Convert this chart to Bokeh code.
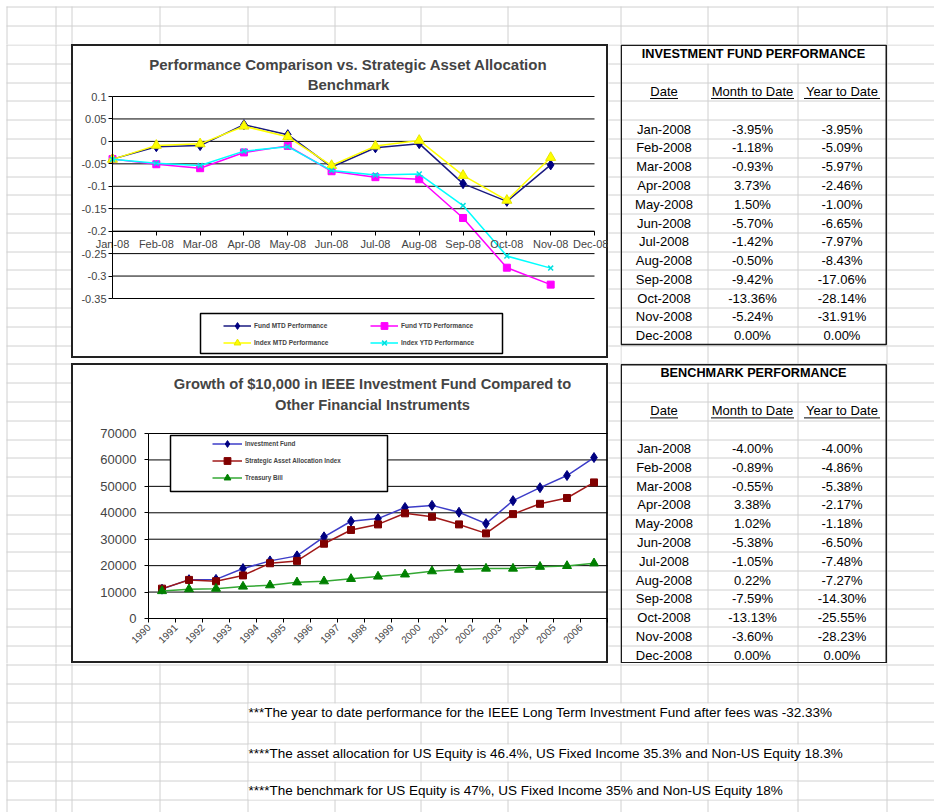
import math
from bokeh.plotting import figure
from bokeh.models import (Range1d, FixedTicker, LinearAxis, Legend, LegendItem,
                          BoxAnnotation, CustomJSTickFormatter, ColumnDataSource, Label)
from bokeh.layouts import row, column
from bokeh.core.properties import value
from bokeh.embed import file_html
from bokeh.resources import INLINE

FONT = "Liberation Sans"
GRID = "#d0d0d0"

# ---------------------------------------------------------------- data
table_dates = ["Jan-2008", "Feb-2008", "Mar-2008", "Apr-2008", "May-2008", "Jun-2008",
               "Jul-2008", "Aug-2008", "Sep-2008", "Oct-2008", "Nov-2008", "Dec-2008"]
chart1_months = ["Jan-08", "Feb-08", "Mar-08", "Apr-08", "May-08", "Jun-08",
                 "Jul-08", "Aug-08", "Sep-08", "Oct-08", "Nov-08", "Dec-08"]
fund_mtd = [-3.95, -1.18, -0.93, 3.73, 1.50, -5.70, -1.42, -0.50, -9.42, -13.36, -5.24, 0.00]
fund_ytd = [-3.95, -5.09, -5.97, -2.46, -1.00, -6.65, -7.97, -8.43, -17.06, -28.14, -31.91, 0.00]
index_mtd = [-4.00, -0.89, -0.55, 3.38, 1.02, -5.38, -1.05, 0.22, -7.59, -13.13, -3.60, 0.00]
index_ytd = [-4.00, -4.86, -5.38, -2.17, -1.18, -6.50, -7.48, -7.27, -14.30, -25.55, -28.23, 0.00]
chart1_plotted_months = 11          # the chart stops at Nov-08
chart1_yticks = [-0.35, -0.3, -0.25, -0.2, -0.15, -0.1, -0.05, 0, 0.05, 0.1]
chart1_xaxis_crosses = -0.2
chart1_series = ["Fund MTD Performance", "Fund YTD Performance",
                 "Index MTD Performance", "Index YTD Performance"]

years = ["1990", "1991", "1992", "1993", "1994", "1995", "1996", "1997", "1998",
         "1999", "2000", "2001", "2002", "2003", "2004", "2005", "2006"]
investment_fund = [11100, 14700, 14800, 18900, 21800, 23700, 30900, 36800, 37800,
                   42000, 42800, 40200, 35900, 44600, 49500, 54100, 60900]
strategic_index = [11300, 14600, 14100, 16300, 20900, 21800, 28300, 33500, 35600,
                   39800, 38500, 35600, 32200, 39500, 43400, 45600, 51500]
treasury_bill = [10400, 11100, 11300, 12100, 12600, 13700, 14100, 15000, 15900,
                 16700, 17900, 18500, 18900, 18900, 19600, 19900, 20900]
chart2_yticks = [0, 10000, 20000, 30000, 40000, 50000, 60000, 70000]
chart2_series = ["Investment Fund", "Strategic Asset Allocation Index", "Treasury Bill"]

chart1_title = ["Performance Comparison vs. Strategic Asset Allocation", "Benchmark"]
chart2_title = ["Growth of $10,000 in IEEE Investment Fund Compared to",
                "Other Financial Instruments"]
table1_title = "INVESTMENT FUND PERFORMANCE"
table2_title = "BENCHMARK PERFORMANCE"
table_headers = ["Date", "Month to Date", "Year to Date"]
notes = ["***The year to date performance for the IEEE Long Term Investment Fund after fees was -32.33%",
         "****The asset allocation for US Equity is 46.4%, US Fixed Income 35.3% and Non-US Equity 18.3%",
         "****The benchmark for US Equity is 47%, US Fixed Income 35% and Non-US Equity 18%"]

# ---------------------------------------------------------------- sheet layout (page pixels)
PX0, PX1, PY0, PY1 = 0, 934, 0, 812
GX0, GY0 = 6, 6
ROW_TOP, ROW_H = 44.0, 18.79
H_LINES = [6, 25.2] + [ROW_TOP + ROW_H * k for k in range(35)] + [702, 721, 743, 761, 780, 799]
V_LINES = [6, 55, 71, 159, 247, 334, 420, 507, 620, 707, 797, 886]


def crisp(v):
    return math.floor(v + 0.5) + 0.5


def row_y(k):
    return ROW_TOP + ROW_H * k


def sheet(x0, x1, y0, y1):
    p = figure(width=x1 - x0, height=y1 - y0, x_range=Range1d(x0, x1), y_range=Range1d(y1, y0),
               x_axis_location=None, y_axis_location=None, toolbar_location=None, title=None,
               min_border=0, outline_line_color=None, output_backend="svg",
               background_fill_color="white", border_fill_color="white")
    p.xgrid.visible = False
    p.ygrid.visible = False
    hs = [crisp(v) for v in H_LINES]
    vs = [crisp(v) for v in V_LINES]
    p.segment(x0=[GX0] * len(hs), x1=[PX1] * len(hs), y0=hs, y1=hs, line_color=GRID, line_width=1)
    p.segment(x0=vs, x1=vs, y0=[GY0] * len(vs), y1=[PY1] * len(vs), line_color=GRID, line_width=1)
    return p


def txt(size, bold=False, align="center"):
    return dict(text_font=value(FONT), text_font_size=value(size), text_color="black",
                text_baseline="middle", text_align=align,
                text_font_style="bold" if bold else "normal")


chart_style = {"background-color": "white", "box-shadow": "inset 0 0 0 2px #222222"}


def chart_figure(w, h, xr, yr):
    p = figure(width=w, height=h, x_range=xr, y_range=yr, title=None,
               x_axis_location=None, y_axis_location=None, toolbar_location=None,
               output_backend="svg", min_border=0, background_fill_color=None,
               border_fill_color=None, outline_line_color=None, styles=chart_style)
    p.xgrid.visible = False
    p.ygrid.visible = False
    return p


def axis(**kw):
    base = dict(major_label_text_font=FONT, major_tick_in=0, major_tick_out=4,
                minor_tick_in=0, minor_tick_out=0, axis_line_color="black",
                major_tick_line_color="black")
    base.update(kw)
    return LinearAxis(**base)


# ---------------------------------------------------------------- chart 1
C1_X0, C1_X1, C1_Y0, C1_Y1 = 71, 608, 44, 358          # chart box on the page
A1_X0, A1_X1, A1_YTOP, A1_YBOT = 112, 594, 96, 298      # plot area on the page
n1x = len(chart1_months) - 1
y1max, y1min = max(chart1_yticks), min(chart1_yticks)


def c1x(px):
    return (px - A1_X0) * n1x / (A1_X1 - A1_X0)


def c1y(py):
    return y1max - (py - A1_YTOP) * (y1max - y1min) / (A1_YBOT - A1_YTOP)


p1 = chart_figure(C1_X1 - C1_X0, C1_Y1 - C1_Y0,
                  Range1d(c1x(C1_X0), c1x(C1_X1)), Range1d(c1y(C1_Y1), c1y(C1_Y0)))

p1.segment(x0=[0] * len(chart1_yticks), x1=[n1x] * len(chart1_yticks),
           y0=chart1_yticks, y1=chart1_yticks, line_color="black", line_width=1)

p1.add_layout(axis(fixed_location=0, bounds=(y1min, y1max),
                   ticker=FixedTicker(ticks=chart1_yticks),
                   formatter=CustomJSTickFormatter(code="return String(Math.round(tick * 100) / 100);"),
                   major_label_text_font_size="11px", major_label_standoff=2), "left")
p1.add_layout(axis(fixed_location=chart1_xaxis_crosses, bounds=(0, n1x),
                   ticker=FixedTicker(ticks=list(range(len(chart1_months)))),
                   formatter=CustomJSTickFormatter(args=dict(labels=chart1_months),
                                                   code="const i = Math.round(tick); return (i >= 0 && i < labels.length) ? labels[i] : '';"),
                   major_label_text_font_size="11px", major_label_standoff=3), "below")

n1 = chart1_plotted_months
src1 = ColumnDataSource(dict(x=list(range(n1)),
                             fm=[v / 100 for v in fund_mtd[:n1]],
                             fy=[v / 100 for v in fund_ytd[:n1]],
                             im=[v / 100 for v in index_mtd[:n1]],
                             iy=[v / 100 for v in index_ytd[:n1]]))
l_fm = p1.line("x", "fm", source=src1, line_color="#1a1a80", line_width=1.5)
s_fm = p1.scatter("x", "fm", source=src1, marker="diamond", size=10, fill_color="#000080", line_color="#000080")
l_fy = p1.line("x", "fy", source=src1, line_color="#ff00ff", line_width=1.5)
s_fy = p1.scatter("x", "fy", source=src1, marker="square", size=7, fill_color="#ff00ff", line_color="#ff00ff")
l_im = p1.line("x", "im", source=src1, line_color="#ffff00", line_width=1.5)
s_im = p1.scatter("x", "im", source=src1, marker="triangle", size=10, fill_color="#ffff00", line_color="#e6e600")
l_iy = p1.line("x", "iy", source=src1, line_color="#00ffff", line_width=1.5)
s_iy = p1.scatter("x", "iy", source=src1, marker="x", size=7, line_color="#00e0e0", line_width=1.5)

p1.add_layout(BoxAnnotation(left=c1x(200), right=c1x(502), top=c1y(313), bottom=c1y(353),
                            fill_color="white", fill_alpha=1.0, line_color="black",
                            line_alpha=1.0, line_width=1.5))
leg1 = Legend(items=[LegendItem(label=chart1_series[0], renderers=[l_fm, s_fm]),
                     LegendItem(label=chart1_series[1], renderers=[l_fy, s_fy]),
                     LegendItem(label=chart1_series[2], renderers=[l_im, s_im]),
                     LegendItem(label=chart1_series[3], renderers=[l_iy, s_iy])],
              location=(223 - C1_X0, C1_Y1 - 351), orientation="horizontal", ncols=2,
              padding=0, spacing=0, margin=0, glyph_width=28, glyph_height=17,
              label_height=17, label_width=116, label_standoff=3,
              label_text_font=FONT, label_text_font_size="6.5px", label_text_font_style="bold",
              border_line_color=None, background_fill_color=None)
p1.add_layout(leg1)

for line_text, cy in zip(chart1_title, (64, 84)):
    p1.add_layout(Label(x=c1x(348), y=c1y(cy), text=line_text, text_align="center",
                        text_baseline="middle", text_font=FONT, text_font_size="15px",
                        text_font_style="bold"))

# ---------------------------------------------------------------- chart 2
C2_X0, C2_X1, C2_Y0, C2_Y1 = 71, 608, 363, 663
A2_X0, A2_X1, A2_YTOP, A2_YBOT = 148, 607, 433, 618
n2 = len(years)
y2max = max(chart2_yticks)


def c2x(px):
    return -0.5 + (px - A2_X0) * n2 / (A2_X1 - A2_X0)


def c2y(py):
    return (A2_YBOT - py) * y2max / (A2_YBOT - A2_YTOP)


p2 = chart_figure(C2_X1 - C2_X0, C2_Y1 - C2_Y0,
                  Range1d(c2x(C2_X0), c2x(C2_X1)), Range1d(c2y(C2_Y1), c2y(C2_Y0)))

p2.segment(x0=[-0.5] * len(chart2_yticks), x1=[n2 - 0.5] * len(chart2_yticks),
           y0=chart2_yticks, y1=chart2_yticks, line_color="black", line_width=1)

p2.add_layout(axis(fixed_location=-0.5, bounds=(0, y2max),
                   ticker=FixedTicker(ticks=chart2_yticks),
                   major_label_text_font_size="13px", major_label_standoff=8), "left")
p2.add_layout(axis(fixed_location=0, bounds=(-0.5, n2 - 0.5),
                   ticker=FixedTicker(ticks=[i - 0.5 for i in range(n2 + 1)]),
                   formatter=CustomJSTickFormatter(args=dict(labels=years),
                                                   code="const i = Math.round(tick + 0.5); return (i >= 0 && i < labels.length) ? labels[i] : '';"),
                   major_label_orientation=math.pi / 4,
                   major_label_text_font_size="10px", major_label_standoff=3), "below")

src2 = ColumnDataSource(dict(x=list(range(n2)), inv=investment_fund,
                             saa=strategic_index, tb=treasury_bill))
l_inv = p2.line("x", "inv", source=src2, line_color="#3c3cc8", line_width=1.5)
s_inv = p2.scatter("x", "inv", source=src2, marker="diamond", size=10, fill_color="#000080", line_color="#000080")
l_saa = p2.line("x", "saa", source=src2, line_color="#a01818", line_width=1.5)
s_saa = p2.scatter("x", "saa", source=src2, marker="square", size=7, fill_color="#800000", line_color="#800000")
l_tb = p2.line("x", "tb", source=src2, line_color="#34a834", line_width=1.5)
s_tb = p2.scatter("x", "tb", source=src2, marker="triangle", size=9, fill_color="#008000", line_color="#008000")

p2.add_layout(BoxAnnotation(left=c2x(170), right=c2x(387), top=c2y(435), bottom=c2y(491),
                            fill_color="white", fill_alpha=1.0, line_color="black",
                            line_alpha=1.0, line_width=1.5))
leg2 = Legend(items=[LegendItem(label=chart2_series[0], renderers=[l_inv, s_inv]),
                     LegendItem(label=chart2_series[1], renderers=[l_saa, s_saa]),
                     LegendItem(label=chart2_series[2], renderers=[l_tb, s_tb])],
              location=(212 - C2_X0, C2_Y1 - 486), orientation="vertical",
              padding=0, spacing=0, margin=0, glyph_width=30, glyph_height=17,
              label_height=17, label_standoff=3,
              label_text_font=FONT, label_text_font_size="6.3px", label_text_font_style="bold",
              border_line_color=None, background_fill_color=None)
p2.add_layout(leg2)

for line_text, cy in zip(chart2_title, (383, 404)):
    p2.add_layout(Label(x=c2x(372), y=c2y(cy), text=line_text, text_align="center",
                        text_baseline="middle", text_font=FONT, text_font_size="14.7px",
                        text_font_style="bold"))

# ---------------------------------------------------------------- sheet pieces
top = sheet(PX0, PX1, PY0, C1_Y0)
left = sheet(PX0, C1_X0, C1_Y0, C2_Y1)
gap = sheet(C1_X0, C1_X1, C1_Y1, C2_Y0)
mid = sheet(C1_X1, 620, C1_Y0, C2_Y1)
right = sheet(620, PX1, C1_Y0, C2_Y1)
bottom = sheet(PX0, PX1, C2_Y1, PY1)

# tables
COL_CX = [663.5, 752, 841.5]
UNDERLINE_W = [28, 83, 76]
tables = [(0, table1_title, fund_mtd, fund_ytd), (17, table2_title, index_mtd, index_ytd)]
for k0, title, mtd, ytd in tables:
    right.quad(left=[621.5], right=[885.5], top=[crisp(row_y(k0)) + 0.5],
               bottom=[crisp(row_y(k0 + 1)) - 0.5], fill_color="white", line_color=None)
    right.text(x=[753], y=[row_y(k0) + ROW_H / 2], text=[title], **txt("12.7px", bold=True))
    hy = row_y(k0 + 2) + ROW_H / 2
    right.text(x=COL_CX, y=[hy] * 3, text=table_headers, **txt("13px"))
    right.segment(x0=[c - w / 2 for c, w in zip(COL_CX, UNDERLINE_W)],
                  x1=[c + w / 2 for c, w in zip(COL_CX, UNDERLINE_W)],
                  y0=[hy + 7] * 3, y1=[hy + 7] * 3, line_color="black", line_width=1)
    ys = [row_y(k0 + 4 + i) + ROW_H / 2 for i in range(len(table_dates))]
    tsrc = ColumnDataSource(dict(y=ys, d=table_dates,
                                 m=[f"{v:.2f}%" for v in mtd], t=[f"{v:.2f}%" for v in ytd]))
    right.text(x=COL_CX[0], y="y", text="d", source=tsrc, **txt("13px"))
    right.text(x=COL_CX[1], y="y", text="m", source=tsrc, **txt("13px"))
    right.text(x=COL_CX[2], y="y", text="t", source=tsrc, **txt("13px"))
    ytop = row_y(k0) + 0.75
    ybot = min(row_y(k0 + 16), C2_Y1) - 0.75
    right.quad(left=[620.75], right=[885.75], top=[ytop], bottom=[ybot],
               fill_alpha=0, line_color="#1a1a1a", line_width=1.5)

# notes under the charts
NOTE_ROWS = [(702, 721, 885), (743, 761, 885), (780, 799, 796)]
bottom.quad(left=[248] * 3, right=[r[2] for r in NOTE_ROWS],
            top=[r[0] + 1 for r in NOTE_ROWS], bottom=[r[1] for r in NOTE_ROWS],
            fill_color="white", line_color=None)
bottom.text(x=[248] * 3, y=[(r[0] + r[1]) / 2 + 0.5 for r in NOTE_ROWS], text=notes,
            **txt("13.5px", align="left"))

charts = column(p1, gap, p2, spacing=0)
band = row(left, charts, mid, right, spacing=0)
page = column(top, band, bottom, spacing=0)

open("out.html", "w").write(file_html(page, INLINE, title="IEEE Investment Fund Performance"))
